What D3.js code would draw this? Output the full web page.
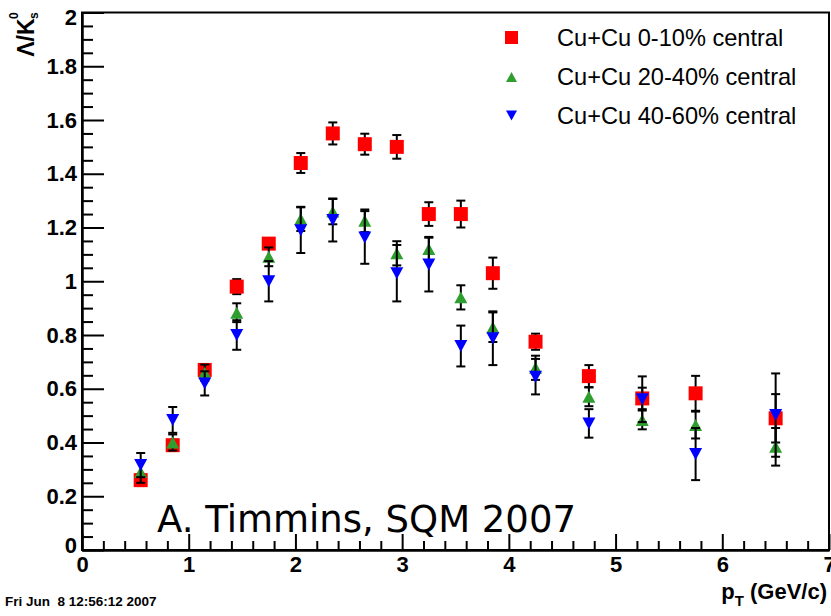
<!DOCTYPE html>
<html><head><meta charset="utf-8">
<script src="https://cdn.jsdelivr.net/npm/d3@7/dist/d3.min.js"></script>
<style>
html,body{margin:0;padding:0;background:#fff;}
svg{display:block;}
</style></head><body>
<svg id="chart" width="831" height="616"></svg>
<script>
// Lambda / K0s ratio vs transverse momentum, Cu+Cu centrality classes
const ptBins = [0.55, 0.85, 1.15, 1.45, 1.75, 2.05, 2.35, 2.65, 2.95, 3.25, 3.55, 3.85, 4.25, 4.75, 5.25, 5.75, 6.5];

const ratio0to10  = [0.26, 0.39, 0.67, 0.98, 1.14, 1.44, 1.55, 1.51, 1.50, 1.25, 1.25, 1.03, 0.775, 0.647, 0.564, 0.583, 0.49];
const err0to10    = [0.022, 0.02, 0.02, 0.028, 0.02, 0.037, 0.041, 0.039, 0.044, 0.044, 0.05, 0.058, 0.03, 0.041, 0.04, 0.065, 0.09];

const ratio20to40 = [0.29, 0.40, 0.66, 0.883, 1.091, 1.232, 1.259, 1.225, 1.104, 1.12, 0.94, 0.829, 0.678, 0.57, 0.484, 0.465, 0.384];
const err20to40   = [0.04, 0.03, 0.03, 0.035, 0.035, 0.045, 0.047, 0.042, 0.045, 0.045, 0.045, 0.055, 0.045, 0.035, 0.035, 0.05, 0.07];

const ratio40to60 = [0.316, 0.484, 0.62, 0.80, 1.0, 1.19, 1.228, 1.163, 1.03, 1.062, 0.759, 0.788, 0.645, 0.471, 0.561, 0.357, 0.502];
const err40to60   = [0.045, 0.048, 0.045, 0.055, 0.075, 0.085, 0.08, 0.098, 0.105, 0.1, 0.076, 0.1, 0.066, 0.053, 0.085, 0.097, 0.155];

const seriesNames  = ["Cu+Cu 0-10% central", "Cu+Cu 20-40% central", "Cu+Cu 40-60% central"];
const seriesColors = ["#ff0000", "#2f9e2f", "#0000ff"];
const seriesShapes = ["square", "triangleUp", "triangleDown"];

const xMajorTicks = [0, 1, 2, 3, 4, 5, 6, 7];
const xTickLabels = ["0", "1", "2", "3", "4", "5", "6", "7"];
const yMajorTicks = [0, 0.2, 0.4, 0.6, 0.8, 1, 1.2, 1.4, 1.6, 1.8, 2];
const yTickLabels = ["0", "0.2", "0.4", "0.6", "0.8", "1", "1.2", "1.4", "1.6", "1.8", "2"];

const svg = d3.select("#chart");
const x = d3.scaleLinear().domain([0, 7]).range([82, 829]);
const y = d3.scaleLinear().domain([0, 2]).range([550, 12.5]);

const labelFont = "'Liberation Sans', Arial, Helvetica, sans-serif";

// minor ticks
const xMinor = d3.range(0, 70, 2).map(d => d / 10).filter(d => !xMajorTicks.includes(d));
const yMinor = d3.range(0, 40, 1).map(d => d / 20).filter(d => Math.abs(d * 5 - Math.round(d * 5)) > 1e-6);

function styleAxis(g) {
  g.selectAll("path.domain").attr("stroke", "#000").attr("stroke-width", 2);
  g.selectAll(".tick line").attr("stroke", "#000").attr("stroke-width", 2);
  g.selectAll(".tick text").attr("fill", "#000")
    .attr("font-family", labelFont).attr("font-weight", "bold").attr("font-size", 22);
}

svg.append("g").attr("transform", `translate(0,${y(0)})`)
  .call(d3.axisBottom(x).tickValues(xMinor).tickSize(-9).tickSizeOuter(0).tickFormat(""))
  .call(styleAxis);
svg.append("g").attr("transform", `translate(0,${y(0)})`)
  .call(d3.axisBottom(x).tickValues(xMajorTicks).tickSize(-16).tickSizeOuter(0).tickPadding(6)
        .tickFormat((d, i) => xTickLabels[i]))
  .call(styleAxis);

svg.append("g").attr("transform", `translate(${x(0)},0)`)
  .call(d3.axisLeft(y).tickValues(yMinor).tickSize(-11).tickSizeOuter(0).tickFormat(""))
  .call(styleAxis);
const gyMajor = svg.append("g").attr("transform", `translate(${x(0)},0)`)
  .call(d3.axisLeft(y).tickValues(yMajorTicks).tickSize(-22).tickSizeOuter(0).tickPadding(5)
        .tickFormat((d, i) => yTickLabels[i]))
  .call(styleAxis);
// keep the top label inside the canvas and lift the zero label off the x labels
gyMajor.selectAll(".tick text").attr("dy", d => d === 2 ? "0.55em" : (d === 0 ? "0.1em" : "0.32em"));

// frame
svg.append("rect")
  .attr("x", x(0)).attr("y", y(2))
  .attr("width", x(7) - x(0)).attr("height", y(0) - y(2))
  .attr("fill", "none").attr("stroke", "#000").attr("stroke-width", 2);

// marker paths
function markerPath(shape, cx, cy, s) {
  const h = s / 2;
  if (shape === "square") return `M${cx - h},${cy - h}h${s}v${s}h${-s}Z`;
  const w = s * 0.5, t = s * 0.46;
  if (shape === "triangleUp") return `M${cx - w},${cy + t}L${cx + w},${cy + t}L${cx},${cy - t}Z`;
  return `M${cx - w},${cy - t}L${cx + w},${cy - t}L${cx},${cy + t}Z`;
}

const series = [
  { values: ratio0to10,  errors: err0to10 },
  { values: ratio20to40, errors: err20to40 },
  { values: ratio40to60, errors: err40to60 }
];

const markerSizes = [14, 13, 13];

series.forEach((s, si) => {
  const pts = ptBins.map((p, i) => ({ p, v: s.values[i], e: s.errors[i] }));
  const g = svg.append("g");
  const bars = g.selectAll("g.err").data(pts).join("g").attr("class", "err")
    .attr("stroke", "#000").attr("stroke-width", 2);
  bars.append("line")
    .attr("x1", d => x(d.p)).attr("x2", d => x(d.p))
    .attr("y1", d => y(d.v - d.e)).attr("y2", d => y(d.v + d.e));
  bars.append("line")
    .attr("x1", d => x(d.p) - 4.5).attr("x2", d => x(d.p) + 4.5)
    .attr("y1", d => y(d.v + d.e)).attr("y2", d => y(d.v + d.e));
  bars.append("line")
    .attr("x1", d => x(d.p) - 4.5).attr("x2", d => x(d.p) + 4.5)
    .attr("y1", d => y(d.v - d.e)).attr("y2", d => y(d.v - d.e));
  g.selectAll("path.mk").data(pts).join("path").attr("class", "mk")
    .attr("d", d => markerPath(seriesShapes[si], x(d.p), y(d.v), markerSizes[si]))
    .attr("fill", seriesColors[si]);
});

// legend
const legendRows = [37.5, 77, 115.5];
const legend = svg.append("g");
seriesNames.forEach((name, i) => {
  legend.append("path")
    .attr("d", markerPath(seriesShapes[i], 511.5, legendRows[i], i === 0 ? 13 : 11))
    .attr("fill", seriesColors[i]);
  legend.append("text")
    .attr("x", 557).attr("y", legendRows[i]).attr("dy", "0.36em")
    .attr("font-family", labelFont).attr("font-size", 23.6).attr("fill", "#000")
    .text(name);
});

// x axis title: p_T (GeV/c)
const xTitle = svg.append("text")
  .attr("x", 827).attr("y", 599).attr("text-anchor", "end")
  .attr("font-family", labelFont).attr("font-weight", "bold").attr("font-size", 22).attr("fill", "#000");
xTitle.append("tspan").text("p");
xTitle.append("tspan").attr("font-size", 15).attr("dy", 7).text("T");
xTitle.append("tspan").attr("dy", -7).text(" (GeV/c)");

// y axis title: Lambda / K0s
const yTitle = svg.append("g").attr("transform", "translate(34,0) rotate(-90)");
yTitle.append("text")
  .attr("x", -18.5).attr("y", 0).attr("text-anchor", "end")
  .attr("font-family", labelFont).attr("font-weight", "bold").attr("font-size", 23).attr("fill", "#000")
  .text("\u039B/K");
yTitle.append("text")
  .attr("x", -19).attr("y", -16).attr("text-anchor", "start")
  .attr("font-family", labelFont).attr("font-weight", "bold").attr("font-size", 12).attr("fill", "#000")
  .text("0");
yTitle.append("text")
  .attr("x", -19).attr("y", 4).attr("text-anchor", "start")
  .attr("font-family", labelFont).attr("font-weight", "bold").attr("font-size", 12).attr("fill", "#000")
  .text("s");

// annotation
svg.append("text")
  .attr("x", 157).attr("y", 532)
  .attr("font-family", "'DejaVu Sans', sans-serif").attr("font-size", 37).attr("fill", "#000")
  .text("A. Timmins, SQM 2007");

// timestamp
svg.append("text")
  .attr("x", 5).attr("y", 606)
  .attr("font-family", labelFont).attr("font-weight", "bold").attr("font-size", 13.5).attr("fill", "#000")
  .style("white-space", "pre")
  .text("Fri Jun  8 12:56:12 2007");
</script>
</body></html>
